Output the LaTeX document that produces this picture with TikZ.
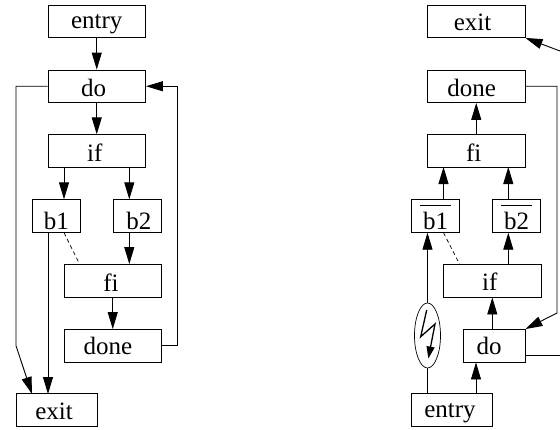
\documentclass[tikz,border=0pt]{standalone}
\usepackage{fontspec}
\setmainfont{Liberation Serif}
\usetikzlibrary{arrows.meta,shapes.geometric}
\newcommand{\nudge}[1]{\kern#1pt}
\newcommand{\barred}[1]{$\overline{\mbox{\rule{0pt}{22.5pt}\kern3pt #1\kern3pt}}$}
\tikzset{
	blockbox/.style={draw,line width=.9pt,inner sep=0pt,font=\fontsize{25}{28}\selectfont,minimum height=32.5pt,text depth=#1,text height=32.5pt-#1},
	blockbox/.default=6.5pt,
	flow/.style={line width=.9pt,-{Triangle[length=17pt,width=10pt]}},
	plain/.style={line width=.9pt},
	dashline/.style={line width=.7pt,dash pattern=on 4pt off 3pt}
}
\begin{document}
\begin{tikzpicture}[x=1pt,y=-1pt]
	\useasboundingbox (0,0) rectangle (560,429);

	%Left graph
	\node [blockbox=9pt,minimum width=97.5pt] (entry) at (96.75,21.25) {entry};
	\node [blockbox,minimum width=97.5pt] (do) at (96.75,86.25) {do\nudge{6.5}};
	\node [blockbox=6pt,minimum width=97.5pt] (if) at (96.75,151) {if\nudge{4}};
	\node [blockbox=3pt,minimum width=48.5pt] (b1) at (56.25,216) {b1};
	\node [blockbox=3pt,minimum width=48.5pt] (b2) at (137.25,216) {b2\nudge{-3}};
	\node [blockbox=6pt,minimum width=97.5pt] (fi) at (112.75,280.75) {fi\nudge{3.5}};
	\node [blockbox=7.5pt,minimum width=97.5pt] (done) at (112.75,345.75) {done\nudge{9.5}};
	\node [blockbox=7pt,minimum width=81pt] (exit) at (56.5,410) {exit\nudge{5}};

	\coordinate (ifa) at (64,167);
	\coordinate (ifb) at (129.3,167);
	\coordinate (loopa) at (16,86.25);
	\coordinate (loopb) at (16,345.75);
	\coordinate (exita) at (32,394);
	\coordinate (exitb) at (48,394);
	\coordinate (backa) at (177.5,345.75);
	\coordinate (backb) at (177.5,86.25);

	\draw [flow] (entry) -- (do);
	\draw [flow] (do) -- (if);
	\draw [flow] (ifa) -- (ifa |- b1.north);
	\draw [flow] (ifb) -- (ifb |- b2.north);
	\draw [flow] (ifb |- b2.south) -- (ifb |- fi.north);
	\draw [flow] (fi) -- (done);
	\draw [flow] (exitb |- b1.south) -- (exitb);
	\draw [flow] (do.west) -- (loopa) -- (loopb) -- (exita);
	\draw [flow] (done.east) -- (backa) -- (backb) -- (do.east);
	\draw [dashline] (ifa |- b1.south) -- ([xshift=16pt]fi.north west);

	%Right graph
	\node [blockbox=7pt,minimum width=97.5pt] (exitr) at (476.25,21.25) {exit\nudge{7.5}};
	\node [blockbox,minimum width=97.5pt] (doner) at (476.25,86.25) {done\nudge{9}};
	\node [blockbox=6pt,minimum width=97.5pt] (fir) at (476.25,151) {fi\nudge{5}};
	\node [blockbox=3pt,minimum width=48.5pt] (bar1) at (435.5,216) {\barred{b1}};
	\node [blockbox=3pt,minimum width=48.5pt] (bar2) at (516.5,216) {\barred{b2}};
	\node [blockbox=7pt,minimum width=97.5pt] (ifr) at (492.25,280.75) {if\nudge{5}};
	\node [blockbox=8pt,minimum width=62pt] (dor) at (494,345.75) {do\nudge{10}};
	\node [blockbox=9pt,minimum width=81pt] (entryr) at (451.5,410) {entry\nudge{3}};
	\node [draw,ellipse,line width=.7pt,inner sep=0pt,minimum width=26pt,minimum height=65pt] (fault) at (427.5,335.5) {};

	\coordinate (fia) at (443.5,167);
	\coordinate (fib) at (508.3,167);
	\coordinate (dob) at (492.3,329.5);
	\coordinate (entryb) at (476,394);
	\coordinate (outa) at (560,355);
	\coordinate (outb) at (560,51);
	\coordinate (turna) at (557,86.25);
	\coordinate (turnb) at (557,313);

	\draw [flow] (fir) -- (doner);
	\draw [flow] (fib |- ifr.north) -- (fib |- bar2.south);
	\draw [flow] (fia |- bar1.north) -- (fia);
	\draw [flow] (fib |- bar2.north) -- (fib);
	\draw [flow] (dob) -- (dob |- ifr.south);
	\draw [flow] (entryb) -- (entryb |- dor.south);
	\draw [plain] (fault.south |- entryr.north) -- (fault.south);
	\draw [flow] (fault.north) -- (fault.north |- bar1.south);
	\draw [flow] (doner.east) -- (turna) -- (turnb) -- (dor.north east);
	\draw [plain] (dor.east |- outa) -- (outa);
	\draw [flow] (outb) -- (exitr.south east);
	\draw [dashline] (fia |- bar1.south) -- ([xshift=16.5pt]ifr.north west);

	%Lightning in the ellipse
	\draw [line width=1.3pt,miter limit=10,-{Triangle[length=12pt,width=8pt]}] (426.7,310) -- (420.7,336.7) -- (435,324) -- (428.3,358.5);
\end{tikzpicture}
\end{document}
